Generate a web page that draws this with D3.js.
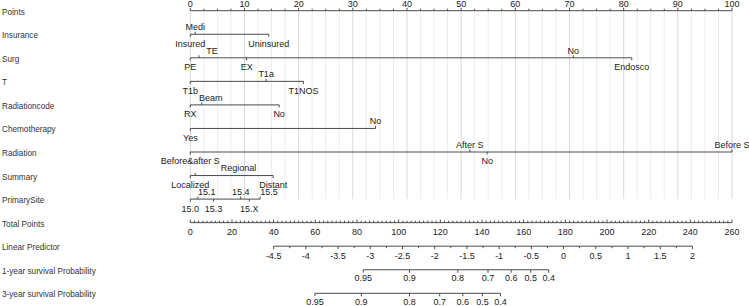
<!DOCTYPE html>
<html><head><meta charset="utf-8">
<script src="https://cdn.jsdelivr.net/npm/d3@7"></script>
<style>
html,body{margin:0;padding:0;background:#fff;}
svg{display:block;font-family:"Liberation Sans",Arial,sans-serif;}
</style></head>
<body><svg id="c" width="749" height="306"></svg>
<script>
// ---------- data ----------
const rowNames = ["Points","Insurance","Surg","T","Radiationcode","Chemotherapy","Radiation","Summary","PrimarySite","Total Points","Linear Predictor","1-year survival Probability","3-year survival Probability"];

const insuranceLevels = ["Insured","Medi","Uninsured"];
const insurancePoints = [0, 0.9, 14.5];
const surgLevels = ["PE","TE","EX","No","Endosco"];
const surgPoints = [0, 1.6, 10.4, 70.7, 81.5];
const tLevels = ["T1b","T1a","T1NOS"];
const tPoints = [0, 14.0, 20.9];
const radiationcodeLevels = ["RX","Beam","No"];
const radiationcodePoints = [0, 2.1, 16.4];
const chemoLevels = ["Yes","No"];
const chemoPoints = [0, 34.2];
const radiationLevels = ["Before&after S","After S","No","Before S"];
const radiationPoints = [0, 51.6, 54.8, 100];
const summaryLevels = ["Localized","Regional","Distant"];
const summaryPoints = [0, 0.9, 15.3];
const primaryLevels = ["15.0","15.1","15.3","15.4","15.X","15.5"];
const primaryPoints = [0, 1.4, 4.3, 9.3, 10.9, 12.9];

const pointsTicks = [0,10,20,30,40,50,60,70,80,90,100];
const totalTicks = [0,20,40,60,80,100,120,140,160,180,200,220,240,260];
const lpTicks = [-4.5,-4,-3.5,-3,-2.5,-2,-1.5,-1,-0.5,0,0.5,1,1.5,2];
const lpRange = [-4.5, 2];
const lpTotalPoints = [40, 241];           // total points at lp -4.5 and 2
const surv1Labels = ["0.95","0.9","0.8","0.7","0.6","0.5","0.4"];
const surv1Points = [83.0, 105.2, 128.4, 142.9, 154.0, 163.4, 172.0];
const surv3Labels = ["0.95","0.9","0.8","0.7","0.6","0.5","0.4"];
const surv3Points = [59.8, 82.1, 105.2, 119.7, 130.8, 140.2, 148.9];

// labels moved right to clear the label hanging from the row above
const clearAbove = {"Surg":"TE","Radiationcode":"Beam","Summary":"Regional"};
// labels drawn starting at their tick instead of centred on it
const startAnchored = ["PrimarySite:15.1","PrimarySite:15.5"];

const predictors = [
  {name:"Insurance", levels:insuranceLevels, pts:insurancePoints},
  {name:"Surg", levels:surgLevels, pts:surgPoints},
  {name:"T", levels:tLevels, pts:tPoints},
  {name:"Radiationcode", levels:radiationcodeLevels, pts:radiationcodePoints},
  {name:"Chemotherapy", levels:chemoLevels, pts:chemoPoints},
  {name:"Radiation", levels:radiationLevels, pts:radiationPoints},
  {name:"Summary", levels:summaryLevels, pts:summaryPoints},
  {name:"PrimarySite", levels:primaryLevels, pts:primaryPoints}
];

// ---------- layout ----------
const svg = d3.select("#c");
const left = 190.3, right = 732;
const x = d3.scaleLinear().domain([0,100]).range([left,right]);
const xt = d3.scaleLinear().domain([0,260]).range([left,right]);
const lpToPts = d3.scaleLinear().domain(lpRange).range(lpTotalPoints);
const y = d3.scalePoint().domain(rowNames).range([10.7, 293.3]);

const lineCol = "#4a4a4a", textCol = "#222", gridMinor = "#ececec", gridMajor = "#d9d9d9";
const fs = 9;

// grid
const gridVals = d3.range(0, 100.01, 2.5);
svg.append("g").selectAll("line").data(gridVals).join("line")
  .attr("x1", d=>x(d)).attr("x2", d=>x(d))
  .attr("y1", y("Points")).attr("y2", y("PrimarySite"))
  .attr("stroke", d=> d%10===0 ? gridMajor : gridMinor).attr("stroke-width", 1);

// row labels
svg.append("g").selectAll("text").data(rowNames).join("text")
  .attr("x", 2).attr("y", d=>y(d)+4)
  .attr("font-size", 8.2).attr("fill", "#333").text(d=>d);

function hline(g, x1, x2, yy){
  g.append("line").attr("x1",x1).attr("x2",x2).attr("y1",yy).attr("y2",yy)
   .attr("stroke",lineCol).attr("stroke-width",1);
}
function tick(g, xx, yy, len){
  g.append("line").attr("x1",xx).attr("x2",xx).attr("y1",yy).attr("y2",yy+len)
   .attr("stroke",lineCol).attr("stroke-width",1);
}
function label(g, xx, yy, txt){
  return g.append("text").attr("x",xx).attr("y",yy).attr("text-anchor","middle")
    .attr("font-size",fs).attr("fill",textCol).text(txt);
}

// Points axis (labels above)
{
  const g = svg.append("g"), yy = y("Points");
  hline(g, x(0), x(100), yy);
  d3.range(0,100.01,2.5).forEach(v=> tick(g, x(v), yy, pointsTicks.includes(v)?-3:-2));
  pointsTicks.forEach(v=> label(g, x(v), yy-4.2, v));
}

// predictor axes
let prevBelow = [];
predictors.forEach(p=>{
  const g = svg.append("g"), yy = y(p.name);
  hline(g, x(d3.min(p.pts)), x(d3.max(p.pts)), yy);
  const order = d3.range(p.levels.length).sort((a,b)=>p.pts[a]-p.pts[b]);
  const below = [];
  order.forEach((i,k)=>{
    const up = k%2===1;
    const xx = x(p.pts[i]);
    tick(g, xx, yy, up?-2.5:2.5);
    const t = label(g, xx, up? yy-4.3 : yy+12.4, p.levels[i]);
    if(startAnchored.includes(p.name+":"+p.levels[i])) t.attr("text-anchor","start");
    if(up && clearAbove[p.name]===p.levels[i]){
      const bb = t.node().getBBox();
      let maxR = null;
      prevBelow.forEach(b=>{
        if(b.x < bb.x+bb.width && b.x+b.width > bb.x){ maxR = Math.max(maxR??-1e9, b.x+b.width); }
      });
      if(maxR!==null) t.attr("x", maxR + 1 + bb.width/2);
    }
    if(!up) below.push(t.node().getBBox());
  });
  prevBelow = below;
});

// Total points axis (labels below, ticks up)
{
  const g = svg.append("g"), yy = y("Total Points");
  hline(g, xt(0), xt(260), yy);
  d3.range(0,260.01,2).forEach(v=> tick(g, xt(v), yy, totalTicks.includes(v)?-3:-2));
  totalTicks.forEach(v=> label(g, xt(v), yy+12.4, v));
}

// Linear predictor axis
{
  const g = svg.append("g"), yy = y("Linear Predictor");
  const px = v => xt(lpToPts(v));
  hline(g, px(lpRange[0]), px(lpRange[1]), yy);
  d3.range(lpRange[0], lpRange[1]+0.001, 0.25).forEach(v=> tick(g, px(v), yy, lpTicks.some(t=>Math.abs(t-v)<1e-9)?3:2));
  lpTicks.forEach(v=> label(g, px(v), yy+12.4, v));
}

// survival axes
function survAxis(row, labs, pts){
  const g = svg.append("g"), yy = y(row);
  hline(g, xt(d3.min(pts)), xt(d3.max(pts)), yy);
  pts.forEach((v,i)=>{ tick(g, xt(v), yy, 3); label(g, xt(v), yy+11.6, labs[i]); });
}
survAxis("1-year survival Probability", surv1Labels, surv1Points);
survAxis("3-year survival Probability", surv3Labels, surv3Points);
</script></body></html>
